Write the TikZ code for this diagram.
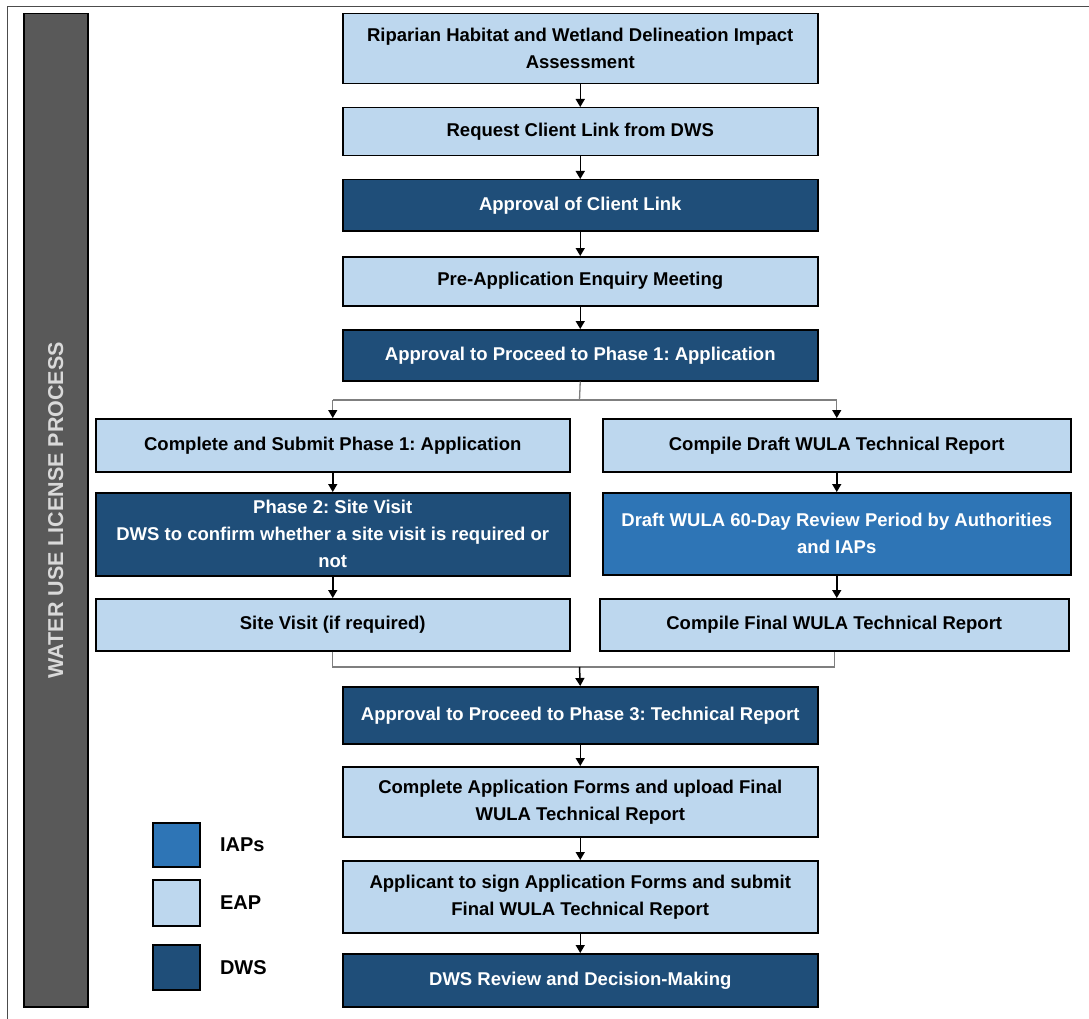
\documentclass[tikz,border=0pt]{standalone}
\usepackage{fontspec}
\setmainfont{Liberation Sans}
\usetikzlibrary{arrows.meta}
\definecolor{lightb}{HTML}{BDD7EE}
\definecolor{darkb}{HTML}{1F4E79}
\definecolor{midb}{HTML}{2E75B6}
\definecolor{sidegray}{HTML}{595959}
\definecolor{sidetext}{HTML}{D9D9D9}
\definecolor{connGray}{HTML}{7F7F7F}
\frenchspacing
\begin{document}
\begin{tikzpicture}[x=1pt,y=-1pt,
  box/.style={draw=black, line width=1.5pt, anchor=north west, align=center,
    font=\bfseries\fontsize{18.5}{27}\selectfont, inner sep=0pt},
  eap/.style={box, fill=lightb, text=black},
  dws/.style={box, fill=darkb, text=white},
  iap/.style={box, fill=midb, text=white},
  arr/.style={line width=1.5pt, draw=black, -{Triangle[length=8pt,width=9pt]}},
  grayline/.style={line width=1.3pt, draw=connGray},
  grayarr/.style={line width=1.3pt, draw=connGray, -{Triangle[length=8pt,width=9pt,color=black]}},
  legtext/.style={anchor=west, font=\bfseries\fontsize{20}{24}\selectfont, text=black}]
\useasboundingbox (0,0) rectangle (1089,1019);
% frame
\draw[line width=1pt, draw=black!70] (7,1019) -- (7,7) -- (1089,7);
% sidebar
\node[draw=black, line width=1.5pt, fill=sidegray, anchor=north west,
  minimum width=64pt, minimum height=993pt, inner sep=0pt] (side) at (23,13) {};
\node[rotate=90, text=sidetext, font=\bfseries\fontsize{21.5}{24}\selectfont] (sidelabel) at (side.center) {WATER USE LICENSE PROCESS};
% main column
\node[eap, minimum width=475pt, minimum height=70pt] (r1) at (342,13) {Riparian Habitat and Wetland Delineation Impact\\Assessment};
\node[eap, minimum width=475pt, minimum height=48pt] (r2) at (342,107) {Request Client Link from DWS};
\node[dws, minimum width=475pt, minimum height=51pt] (r3) at (342,179) {Approval of Client Link};
\node[eap, minimum width=475pt, minimum height=49pt] (r4) at (342,256) {Pre-Application Enquiry Meeting};
\node[dws, minimum width=475pt, minimum height=51pt] (r5) at (342,329) {Approval to Proceed to Phase 1: Application};
% left column
\node[eap, minimum width=474pt, minimum height=53pt] (L1) at (95,418) {Complete and Submit Phase 1: Application};
\node[dws, minimum width=474pt, minimum height=83pt] (L2) at (95,492) {Phase 2: Site Visit\\DWS to confirm whether a site visit is required or\\not};
\node[eap, minimum width=474pt, minimum height=52pt] (L3) at (95,598) {Site Visit (if required)};
% right column
\node[eap, minimum width=468pt, minimum height=53pt] (R1) at (602,418) {Compile Draft WULA Technical Report};
\node[iap, minimum width=468pt, minimum height=82pt] (R2) at (602,492) {Draft WULA 60-Day Review Period by Authorities\\and IAPs};
\node[eap, minimum width=469pt, minimum height=52pt] (R3) at (599,598) {Compile Final WULA Technical Report};
% lower column
\node[dws, minimum width=475pt, minimum height=57pt] (m1) at (342,686) {Approval to Proceed to Phase 3: Technical Report};
\node[eap, minimum width=475pt, minimum height=70pt] (m2) at (342,766) {Complete Application Forms and upload Final\\WULA Technical Report};
\node[eap, minimum width=475pt, minimum height=72pt] (m3) at (342,860) {Applicant to sign Application Forms and submit\\Final WULA Technical Report};
\node[dws, minimum width=475pt, minimum height=53pt] (m4) at (342,953) {DWS Review and Decision-Making};
% legend
\node[iap, minimum width=47pt, minimum height=44pt] (lg1) at (152,822) {};
\node[eap, minimum width=47pt, minimum height=46pt] (lg2) at (152,879) {};
\node[dws, minimum width=47pt, minimum height=45pt] (lg3) at (152,944) {};
\node[legtext] (lt1) at ([xshift=16pt]lg1.east) {IAPs};
\node[legtext] (lt2) at ([xshift=16pt]lg2.east) {EAP};
\node[legtext] (lt3) at ([xshift=16pt]lg3.east) {DWS};
% connectors main
\draw[arr] (r1) -- (r2);
\draw[arr] (r2) -- (r3);
\draw[arr] (r3) -- (r4);
\draw[arr] (r4) -- (r5);
% split
\coordinate (sp) at (579.5,400);
\draw[grayline] (r5.south) -- (sp);
\draw[grayline] (L1.north |- sp) -- (R1.north |- sp);
\draw[grayarr] (L1.north |- sp) -- (L1.north);
\draw[grayarr] (R1.north |- sp) -- (R1.north);
% columns
\draw[arr] (L1.south) -- (L1.south |- L2.north);
\draw[arr] (L2.south) -- (L2.south |- L3.north);
\draw[arr] (R1.south) -- (R1.south |- R2.north);
\draw[arr] (R2.south) -- (R2.south |- R3.north);
% merge
\coordinate (mg) at (579.5,667);
\draw[grayline] (L3.south) |- (R3.south |- mg) -- (R3.south);
\draw[arr] (mg) -- (m1.north);
% lower
\draw[arr] (m1) -- (m2);
\draw[arr] (m2) -- (m3);
\draw[arr] (m3) -- (m4);
\end{tikzpicture}
\end{document}
